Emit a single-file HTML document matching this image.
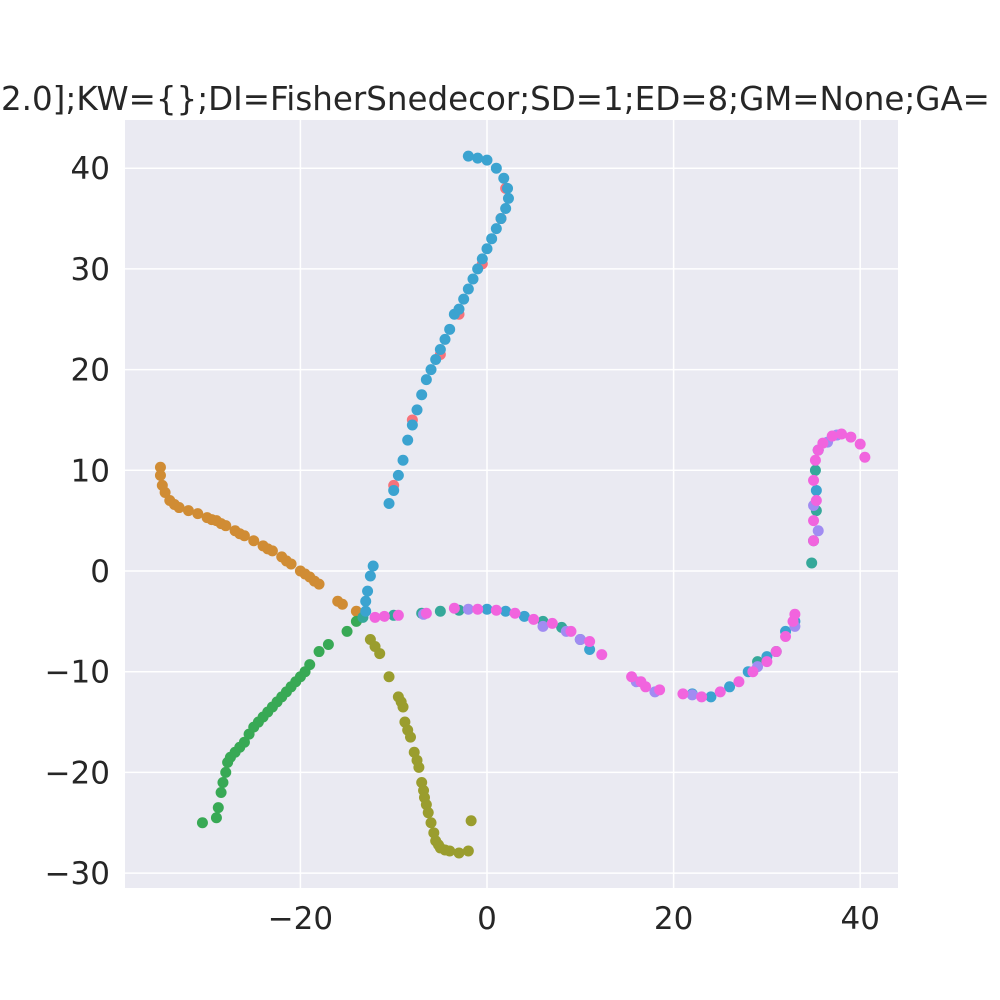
<!DOCTYPE html>
<html><head><meta charset="utf-8"><style>body{margin:0;background:#fff}svg{display:block;font-family:"DejaVu Sans","Liberation Sans",sans-serif}</style></head>
<body>
<svg id="chart" width="1000" height="1000">
<rect x="0" y="0" width="1000" height="1000" fill="#fff"/>
<text x="1" y="110" font-size="32.5" fill="#262626">2.0];KW={};DI=FisherSnedecor;SD=1;ED=8;GM=None;GA=</text>
<rect x="125" y="120" width="773" height="768" fill="#eaeaf2"/>
<g id="grid"></g><g id="ticks"></g><g id="pts"></g>
</svg>
<script>
const xTicks=[-20,0,20,40];
const yTicks=[-30,-20,-10,0,10,20,30,40];
const orange=[[-35,10.3],[-35,9.5],[-34.8,8.5],[-34.5,7.8],[-34,7],[-33.5,6.6],[-33,6.3],[-32,6],[-31,5.7],[-30,5.3],[-29.5,5.1],[-29,5],[-28.5,4.7],[-28,4.5],[-27,4],[-26.5,3.7],[-26,3.5],[-25,3],[-24,2.5],[-23.5,2.2],[-23,2],[-22,1.4],[-21.5,1],[-21,0.7],[-20,0],[-19.5,-0.3],[-19,-0.6],[-18.5,-1],[-18,-1.3],[-16,-3],[-15.5,-3.3],[-14,-4],[-13.5,-4.3]];
const olive=[[-12.5,-6.8],[-12,-7.5],[-11.5,-8.2],[-10.5,-10.5],[-9.5,-12.5],[-9.2,-13],[-9,-13.5],[-8.8,-15],[-8.5,-15.8],[-8.2,-16.5],[-7.8,-18],[-7.5,-18.8],[-7.3,-19.5],[-7,-21],[-6.8,-21.8],[-6.7,-22.5],[-6.5,-23.2],[-6.3,-24],[-6,-25],[-5.7,-26],[-5.5,-26.8],[-5.2,-27.2],[-5,-27.5],[-4.5,-27.7],[-4,-27.8],[-3,-28],[-2,-27.8],[-1.7,-24.8]];
const green=[[-30.5,-25],[-29,-24.5],[-28.8,-23.5],[-28.5,-22],[-28.3,-21],[-28,-20],[-27.8,-19],[-27.5,-18.5],[-27,-18],[-26.5,-17.5],[-26,-17],[-25.5,-16.2],[-25,-15.5],[-24.5,-15],[-24,-14.5],[-23.5,-14],[-23,-13.5],[-22.5,-13],[-22,-12.5],[-21.5,-12],[-21,-11.5],[-20.5,-11],[-20,-10.5],[-19.5,-10],[-19,-9.3],[-18,-8],[-17,-7.3],[-15,-6],[-14,-5]];
const teal=[[-13.3,-4.6],[-10,-4.4],[-7,-4.2],[-5,-4],[-3,-3.9],[6,-5],[8,-5.6],[10,-6.8],[34.8,0.8],[35,3],[35.3,6],[35.2,10],[29,-9],[31,-8]];
const red=[[2,38],[1.5,35],[-0.5,30.5],[-3,25.5],[-5,21.5],[-8,15],[-10,8.5]];
const blue=[[-10.5,6.7],[-10,8],[-9.5,9.5],[-9,11],[-8.5,13],[-8,14.5],[-7.5,16],[-7,17.5],[-6.5,19],[-6,20],[-5.5,21],[-5,22],[-4.5,23],[-4,24],[-3.5,25.5],[-3,26],[-2.5,27],[-2,28],[-1.5,29],[-1,30],[-0.5,31],[0,32],[0.5,33],[1,34],[1.5,35],[2,36],[2.3,37],[2.2,38],[1.8,39],[1,40],[0,40.8],[-1,41],[-2,41.2],[-13,-4],[-13,-3],[-12.8,-2],[-12.5,-0.5],[-12.2,0.5],[0,-3.8],[2,-4],[4,-4.5],[11,-7.8],[24,-12.5],[22,-12.2],[26,-11.5],[28,-10],[30,-8.5],[32,-6],[33,-5],[35.3,8],[35.5,12]];
const pink=[[-12,-4.6],[-11,-4.5],[-9.5,-4.4],[-6.5,-4.2],[-3.5,-3.7],[-1,-3.8],[1,-3.9],[3,-4.2],[5,-4.8],[7,-5.2],[9,-6],[11,-7],[12.3,-8.3],[15.5,-10.5],[16.5,-11],[17,-11.5],[18.5,-11.8],[21,-12.2],[23,-12.5],[25,-12],[27,-11],[28.5,-10],[30,-9],[31,-8],[32,-6.5],[32.8,-5],[33,-4.3],[35,3],[35,5],[35.3,7],[35,9],[35.2,11],[35.5,12],[36,12.7],[37,13.4],[38,13.6],[39,13.3],[40,12.6],[40.5,11.3]];
const purple=[[-6.8,-4.3],[-2,-3.8],[6,-5.5],[8.5,-6],[10,-6.8],[16,-11],[18,-12],[22,-12.3],[29,-9.5],[33,-5.5],[35.5,12],[36.5,12.8],[37.5,13.5],[35,6.5],[35.5,4]];
const X=v=>487+v*9.33, Y=v=>571-v*10.07;
const NS="http://www.w3.org/2000/svg";
const grid=document.getElementById('grid'),ticks=document.getElementById('ticks'),pts=document.getElementById('pts');
xTicks.forEach(t=>{const l=document.createElementNS(NS,'line');


l.setAttribute('x1',X(t));l.setAttribute('x2',X(t));l.setAttribute('y1',120);l.setAttribute('y2',888);l.setAttribute('stroke','#fff');l.setAttribute('stroke-width','1.5');grid.appendChild(l);
const tx=document.createElementNS(NS,'text');


tx.setAttribute('x',X(t));tx.setAttribute('y',929);tx.setAttribute('text-anchor','middle');tx.setAttribute('font-size','31');tx.setAttribute('fill','#262626');tx.textContent=String(t).replace('-','\u2212');ticks.appendChild(tx);});
yTicks.forEach(t=>{const l=document.createElementNS(NS,'line');


l.setAttribute('x1',125);l.setAttribute('x2',898);l.setAttribute('y1',Y(t));l.setAttribute('y2',Y(t));l.setAttribute('stroke','#fff');l.setAttribute('stroke-width','1.5');grid.appendChild(l);
const tx=document.createElementNS(NS,'text');


tx.setAttribute('x',110);tx.setAttribute('y',Y(t)+11);tx.setAttribute('text-anchor','end');tx.setAttribute('font-size','31');tx.setAttribute('fill','#262626');tx.textContent=String(t).replace('-','\u2212');ticks.appendChild(tx);});
[[orange,'#d08c34','orange'],[olive,'#9a9d2e','olive'],[green,'#38a955','green'],[red,'#f6737b','red'],[teal,'#35a89a','teal'],[blue,'#3ba3d0','blue'],[purple,'#a18cf2','purple'],[pink,'#f164de','pink']].forEach(([d,c,n])=>{
d.forEach(p=>{const e=document.createElementNS(NS,'circle');


e.setAttribute('cx',X(p[0]));e.setAttribute('cy',Y(p[1]));e.setAttribute('r',5.5);e.setAttribute('fill',c);pts.appendChild(e);});});
</script>
</body></html>
